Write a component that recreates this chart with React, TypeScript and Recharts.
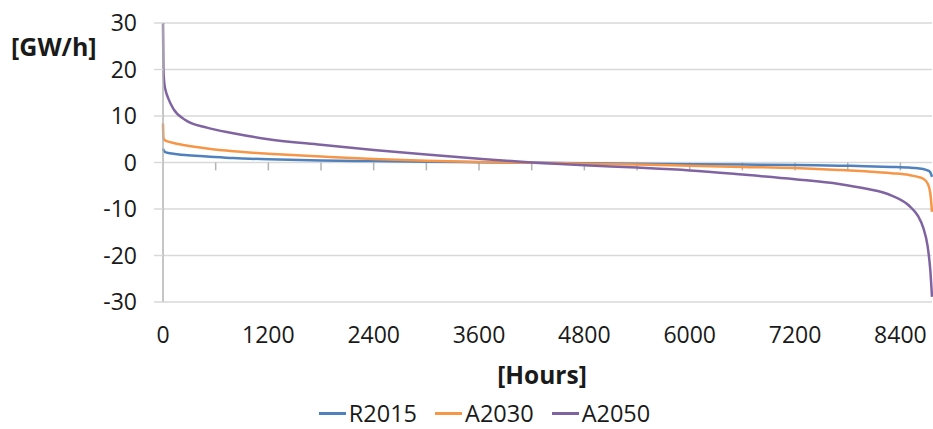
import { CartesianGrid, Label, Legend, Line, LineChart, ReferenceLine, XAxis, YAxis } from 'recharts';

const hours = [
  0, 5, 15, 30, 60, 120, 250, 500, 800, 1200, 1800, 2400, 3000, 3600, 4200, 4800, 5400, 6000, 6600, 7200, 7700,
  8000, 8300, 8500, 8600, 8660, 8710, 8740, 8760,
];

const r2015 = [
  3.0, 2.7, 2.4, 2.2, 2.05, 1.9, 1.6, 1.3, 0.95, 0.7, 0.45, 0.3, 0.15, 0.05, -0.05, -0.15, -0.25, -0.35, -0.45,
  -0.55, -0.68, -0.78, -0.95, -1.1, -1.25, -1.4, -1.7, -2.1, -3.1,
];

const a2030 = [
  8.4, 5.3, 4.9, 4.7, 4.5, 4.2, 3.7, 3.0, 2.4, 1.9, 1.3, 0.75, 0.35, 0.1, -0.05, -0.25, -0.45, -0.7, -0.95, -1.2,
  -1.6, -1.9, -2.3, -2.7, -3.1, -3.5, -4.5, -6.5, -10.6,
];

const a2050 = [
  30, 20, 17, 15.5, 13.8, 11.5, 9.2, 7.5, 6.3, 5.0, 3.8, 2.7, 1.7, 0.8, 0, -0.6, -1.1, -1.7, -2.6, -3.6, -4.6, -5.6,
  -7.1, -9.3, -11.5, -14, -18, -23, -28.9,
];

const xTicks = [0, 1200, 2400, 3600, 4800, 6000, 7200, 8400];
const xMinorTicks = [600, 1200, 1800, 2400, 3000, 3600, 4200, 4800, 5400, 6000, 6600, 7200, 7800, 8400];
const yTicks = [-30, -20, -10, 0, 10, 20, 30];

const series = [
  { key: 'R2015', color: '#4f81bd' },
  { key: 'A2030', color: '#f79646' },
  { key: 'A2050', color: '#8064a2' },
];

const data = hours.map((h, i) => ({ h, R2015: r2015[i], A2030: a2030[i], A2050: a2050[i] }));

const font = '"Open Sans", sans-serif';
const textColor = '#1a1a1a';

function LegendContent() {
  return (
    <div
      style={{
        display: 'flex',
        justifyContent: 'center',
        alignItems: 'center',
        height: 32,
        fontFamily: font,
        paddingLeft: 54,
      }}
    >
      {series.map((s) => (
        <div key={s.key} style={{ display: 'flex', alignItems: 'center', marginRight: 18 }}>
          <span style={{ display: 'inline-block', width: 27, height: 3, background: s.color, marginRight: 3 }} />
          <span style={{ fontSize: 23.5, color: textColor, lineHeight: '32px' }}>{s.key}</span>
        </div>
      ))}
    </div>
  );
}

export default function App() {
  return (
    <div style={{ position: 'absolute', left: 0, top: 0, width: 933, height: 429, background: '#fff' }}>
      <LineChart
        width={933}
        height={429}
        data={data}
        margin={{ top: 23, right: 1, left: 0, bottom: 55 }}
        style={{ fontFamily: font }}
      >
        <CartesianGrid horizontal vertical={false} stroke="#d9d9d9" strokeWidth={1.5} />
        <XAxis
          type="number"
          dataKey="h"
          domain={[0, 8760]}
          ticks={xTicks}
          axisLine={false}
          tickLine={false}
          tickMargin={19}
          height={40}
          tick={{ fill: textColor, fontSize: 23 }}
          interval={0}
        >
          <Label
            content={() => (
              <text x={542} y={384} textAnchor="middle" fontSize={24.5} fontWeight="bold" fill={textColor}>
                [Hours]
              </text>
            )}
          />
        </XAxis>
        <YAxis
          type="number"
          domain={[-30, 30]}
          ticks={yTicks}
          width={163}
          axisLine={{ stroke: '#b3b3b3', strokeWidth: 1.5 }}
          tickLine={{ stroke: '#d9d9d9', strokeWidth: 1.5 }}
          tickSize={9}
          tickMargin={17}
          tick={{ fill: textColor, fontSize: 23 }}
          interval={0}
        >
          <Label
            content={() => (
              <text x={11} y={56} textAnchor="start" fontSize={25} fontWeight="bold" fill={textColor}>
                [GW/h]
              </text>
            )}
          />
        </YAxis>
        {xMinorTicks.map((t) => (
          <ReferenceLine
            key={t}
            segment={[
              { x: t, y: 0 },
              { x: t, y: -1.7 },
            ]}
            stroke="#b3b3b3"
            strokeWidth={1.5}
          />
        ))}
        <Legend
          verticalAlign="bottom"
          content={<LegendContent />}
          wrapperStyle={{ position: 'absolute', left: 0, top: 397, width: 933, height: 32 }}
        />
        {series.map((s) => (
          <Line
            key={s.key}
            type="monotone"
            dataKey={s.key}
            stroke={s.color}
            strokeWidth={2.5}
            dot={false}
            isAnimationActive={false}
          />
        ))}
      </LineChart>
    </div>
  );
}
